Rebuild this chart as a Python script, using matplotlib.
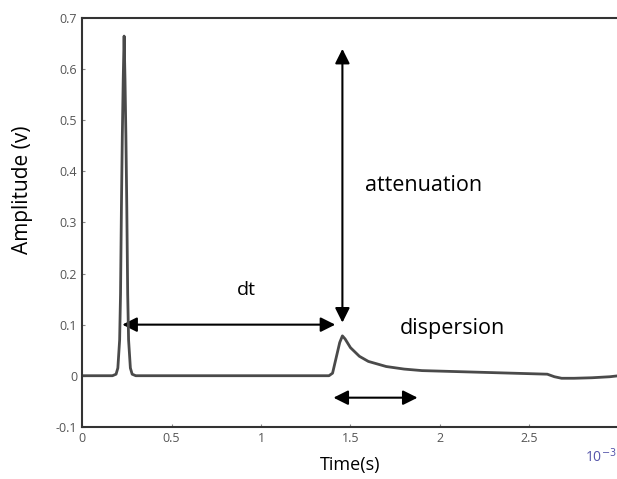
import matplotlib.pyplot as plt
from matplotlib.patches import FancyArrowPatch

plt.rcParams['font.family'] = ['Open Sans', 'DejaVu Sans']

# Signal (time in s, amplitude in v)
time = [0.0, 0.17, 0.19, 0.20, 0.21, 0.215, 0.22, 0.225, 0.23, 0.235, 0.24, 0.245,
        0.25, 0.255, 0.26, 0.27, 0.28, 0.30, 0.60, 1.00, 1.38, 1.40, 1.42, 1.44,
        1.455, 1.47, 1.50, 1.55, 1.60, 1.70, 1.80, 1.90, 2.00, 2.20, 2.40, 2.60,
        2.64, 2.68, 2.75, 2.85, 2.95, 3.00]
amplitude = [0.0, 0.0, 0.003, 0.015, 0.07, 0.16, 0.33, 0.47, 0.58, 0.665, 0.58, 0.47,
             0.33, 0.16, 0.07, 0.015, 0.003, 0.0, 0.0, 0.0, 0.0, 0.005, 0.035, 0.065,
             0.078, 0.072, 0.055, 0.038, 0.028, 0.018, 0.013, 0.010, 0.009, 0.007,
             0.005, 0.003, -0.002, -0.005, -0.005, -0.004, -0.002, 0.0]

x_ticks = [0, 0.5, 1, 1.5, 2, 2.5]
y_ticks = [-0.1, 0, 0.1, 0.2, 0.3, 0.4, 0.5, 0.6, 0.7]

# arrows: (start, end)
dt_arrow = ((0.225, 0.1), (1.415, 0.1))
att_arrow = ((1.455, 0.64), (1.455, 0.104))
disp_arrow = ((1.405, -0.043), (1.875, -0.043))

fig = plt.figure(figsize=(6.17, 4.79), dpi=100)
ax = fig.add_axes([0.133, 0.109, 0.87, 0.853])

ax.plot(time, amplitude, color='#4a4a4a', lw=2)

for (a, b) in [dt_arrow, att_arrow, disp_arrow]:
    ax.add_patch(FancyArrowPatch(a, b, arrowstyle='<|-|>', mutation_scale=22,
                                 color='black', lw=1.5, shrinkA=0, shrinkB=0))

ax.text(0.92, 0.167, 'dt', fontsize=14, ha='center', va='center')
ax.text(1.91, 0.372, 'attenuation', fontsize=15.5, ha='center', va='center')
ax.text(2.07, 0.092, 'dispersion', fontsize=15.5, ha='center', va='center')

ax.set_xlim(0, 3)
ax.set_ylim(-0.1, 0.7)
ax.set_xticks(x_ticks)
ax.set_xticklabels(['0', '0.5', '1', '1.5', '2', '2.5'])
ax.set_yticks(y_ticks)
ax.set_yticklabels(['-0.1', '0', '0.1', '0.2', '0.3', '0.4', '0.5', '0.6', '0.7'])
ax.tick_params(direction='in', length=2, labelsize=9, labelcolor='#555555',
               color='#888888')
for s in ['left', 'bottom', 'top']:
    ax.spines[s].set_linewidth(1.5)
    ax.spines[s].set_color('#333333')
ax.spines['right'].set_visible(False)

ax.set_xlabel('Time(s)', fontsize=13, labelpad=8)
ax.set_ylabel('Amplitude (v)', fontsize=15)
ax.yaxis.set_label_coords(-0.092, 0.58)

fig.text(0.999, 0.035, '10$^{-3}$', fontsize=10, color='#5555aa', ha='right')

plt.savefig('out.png')
